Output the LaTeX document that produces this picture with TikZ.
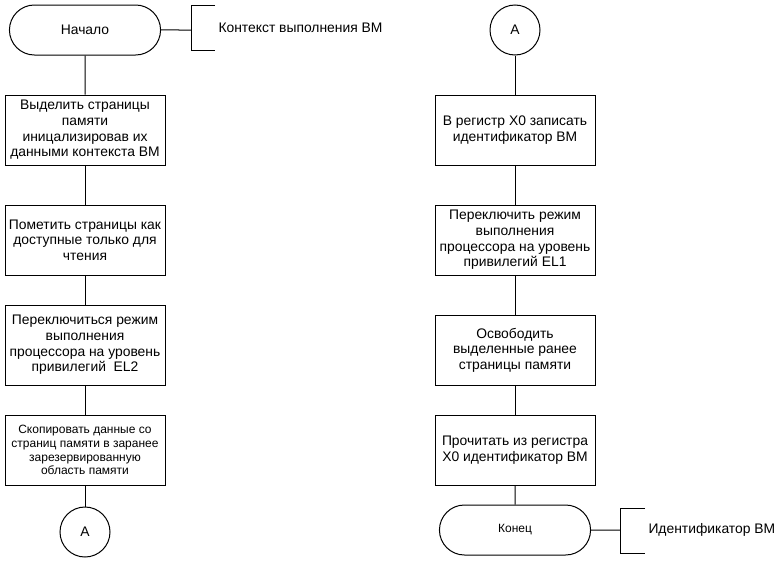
\documentclass[tikz,border=0pt]{standalone}
\usepackage{fontspec}
\setmainfont{Liberation Sans}
\usetikzlibrary{positioning,shapes.misc}

\begin{document}
\begin{tikzpicture}[x=0.75pt, y=-0.75pt, node distance=75pt, on grid, line width=0.75pt,
    every node/.style={font=\fontsize{10.4}{11.7}\selectfont},
    process/.style={draw, rectangle, minimum width=120pt, minimum height=52.5pt, align=center, inner sep=2pt},
    terminal/.style={draw, rounded rectangle, minimum width=120pt, minimum height=37.5pt},
    connector/.style={draw, circle, minimum size=37.5pt, inner sep=0pt},
    small/.style={font=\fontsize{9}{10.3}\selectfont},
    note/.style={anchor=west, inner sep=0pt}]
    \useasboundingbox (0,0) rectangle (781,564);

    % Left column
    \node[terminal] (start) at (85,30) {Начало};
    \node[process] (alloc) [below=75pt of start] {Выделить страницы\\памяти\\иницализировав их\\данными контекста ВМ};
    \node[process] (ro) [below=82.5pt of alloc] {Пометить страницы как\\доступные только для\\чтения};
    \node[process, minimum height=60pt] (el2) [below=78.75pt of ro] {Переключиться режим\\выполнения\\процессора на уровень\\привилегий~ EL2};
    \node[process, small] (copy) [below=78.75pt of el2] {Скопировать данные со\\страниц памяти в заранее\\зарезервированную\\область памяти};
    \node[connector] (conA) [below=61.5pt of copy] {A};

    % Right column
    \node[connector] (conB) at (515,30) {A};
    \node[process] (setid) [below=75pt of conB] {В регистр X0 записать\\идентификатор ВМ};
    \node[process] (el1) [below=82.5pt of setid] {Переключить режим\\выполнения\\процессора на уровень\\привилегий EL1};
    \node[process] (free) [below=82.5pt of el1] {Освободить\\выделенные ранее\\страницы памяти};
    \node[process] (readid) [below=75pt of free] {Прочитать из регистра\\X0 идентификатор ВМ};
    \node[terminal, small] (stop) [below=60pt of readid] {Конец};

    % Annotations
    \coordinate (ctx) at (191,30);
    \node[note] (ctxtext) at (218,28) {Контекст выполнения ВМ};
    \coordinate (res) at (620,530);
    \node[note] (restext) at (648,530) {Идентификатор ВМ};
    \draw (start) -- (ctx);
    \draw (ctx) ++(24,-25) -- ++(-24,0) -- ++(0,45) -- ++(24,0);
    \draw (stop) -- (res);
    \draw (res) ++(25,-22) -- ++(-25,0) -- ++(0,45) -- ++(25,0);

    % Lines
    \draw (start) -- (alloc);
    \draw (alloc) -- (ro);
    \draw (ro) -- (el2);
    \draw (el2) -- (copy);
    \draw (copy) -- (conA);
    \draw (conB) -- (setid);
    \draw (setid) -- (el1);
    \draw (el1) -- (free);
    \draw (free) -- (readid);
    \draw (readid) -- (stop);
\end{tikzpicture}
\end{document}
